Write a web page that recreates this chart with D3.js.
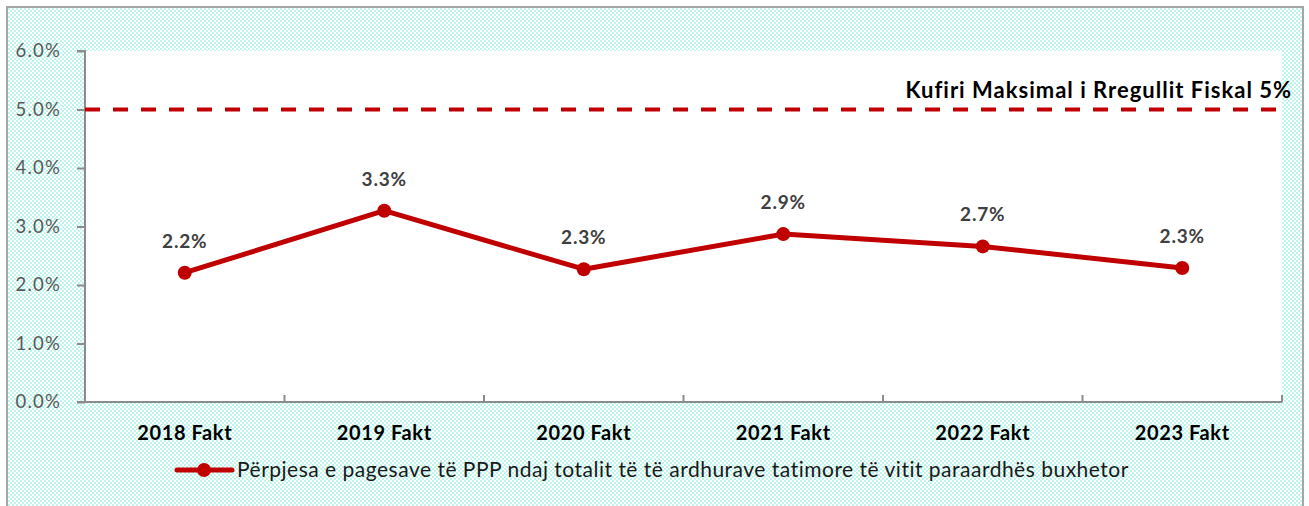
<!DOCTYPE html>
<html>
<head>
<meta charset="utf-8">
<script src="https://cdn.jsdelivr.net/npm/d3@7"></script>
<style>
  html, body { margin: 0; padding: 0; background: #fff; }
  svg { display: block; }
  text { font-family: Lato, "Open Sans", sans-serif; }
</style>
</head>
<body>
<div class="chart"></div>
<script>
const years = ["2018 Fakt", "2019 Fakt", "2020 Fakt", "2021 Fakt", "2022 Fakt", "2023 Fakt"];
const shares = [2.21, 3.27, 2.27, 2.87, 2.66, 2.29];
const shareLabels = ["2.2%", "3.3%", "2.3%", "2.9%", "2.7%", "2.3%"];
const yTicks = [0, 1, 2, 3, 4, 5, 6];
const limitValue = 5;
const limitLabel = "Kufiri Maksimal i Rregullit Fiskal 5%";
const seriesName = "Përpjesa e pagesave të PPP ndaj totalit të të ardhurave tatimore të vitit paraardhës buxhetor";

window.onload = function () {

const W = 1309, H = 506;
const red = "#c00000";

const svg = d3.select(".chart")
  .append("svg")
  .attr("width", W)
  .attr("height", H);

// checker fill like the excel chart area
const pat = svg.append("defs").append("pattern")
  .attr("id", "checks")
  .attr("patternUnits", "userSpaceOnUse")
  .attr("width", 4)
  .attr("height", 4);
pat.append("rect").attr("width", 4).attr("height", 4).attr("fill", "#ffffff");
pat.append("rect").attr("width", 2).attr("height", 2).attr("fill", "#bdf5ec");
pat.append("rect").attr("x", 2).attr("y", 2).attr("width", 2).attr("height", 2).attr("fill", "#bdf5ec");

svg.append("rect")
  .attr("x", 7).attr("y", 7)
  .attr("width", 1296).attr("height", 510)
  .attr("fill", "url(#checks)")
  .attr("stroke", "#a6a6a6")
  .attr("stroke-width", 2);

const x = d3.scaleBand()
  .domain(years)
  .range([85, 1282]);

const y = d3.scaleLinear()
  .domain([0, 6])
  .range([402, 51]);

// plot area
svg.append("rect")
  .attr("x", x.range()[0])
  .attr("y", y(6))
  .attr("width", x.range()[1] - x.range()[0])
  .attr("height", y(0) - y(6))
  .attr("fill", "#fff");

// y axis
const yAxis = svg.append("g")
  .attr("transform", `translate(${x.range()[0]},0)`)
  .call(d3.axisLeft(y).tickValues(yTicks).tickSize(8).tickPadding(16)
    .tickFormat(d => d.toFixed(1) + "%"));
yAxis.selectAll("path, line").attr("stroke", "#8c8c8c").attr("stroke-width", 2);
yAxis.select(".domain").attr("d", `M-8,${y(6)}H0V${y(0)}`);
yAxis.selectAll("text")
  .attr("fill", "#595959")
  .style("font-size", "18.5px")
  .style("letter-spacing", "1.2px");

// x axis, ticks between categories
const xAxis = svg.append("g")
  .attr("transform", `translate(0,${y(0)})`);
xAxis.append("line")
  .attr("x1", x.range()[0] - 8).attr("x2", x.range()[1])
  .attr("stroke", "#8c8c8c").attr("stroke-width", 2);
xAxis.selectAll(".tk")
  .data(years)
  .enter()
  .append("line")
  .attr("x1", d => x(d) + x.bandwidth())
  .attr("x2", d => x(d) + x.bandwidth())
  .attr("y1", -7).attr("y2", 0)
  .attr("stroke", "#8c8c8c").attr("stroke-width", 2);
xAxis.selectAll(".lbl")
  .data(years)
  .enter()
  .append("text")
  .attr("x", d => x(d) + x.bandwidth() / 2)
  .attr("y", 38)
  .attr("text-anchor", "middle")
  .style("font-size", "20px")
  .style("font-weight", "bold")
  .style("letter-spacing", "0.6px")
  .attr("fill", "#000")
  .text(d => d);

// fiscal rule limit
svg.append("line")
  .attr("x1", x.range()[0]).attr("x2", x.range()[1])
  .attr("y1", y(limitValue)).attr("y2", y(limitValue))
  .attr("stroke", red)
  .attr("stroke-width", 4)
  .attr("stroke-dasharray", "15,13");

svg.append("text")
  .attr("x", 1292)
  .attr("y", y(limitValue) - 12)
  .attr("text-anchor", "end")
  .style("font-size", "22px")
  .style("font-weight", "bold")
  .style("letter-spacing", "1px")
  .attr("fill", "#000")
  .text(limitLabel);

// series
const data = years.map((d, i) => ({ year: d, v: shares[i], label: shareLabels[i] }));
const cx = d => x(d.year) + x.bandwidth() / 2;

svg.append("path")
  .datum(data)
  .attr("fill", "none")
  .attr("stroke", red)
  .attr("stroke-width", 5)
  .attr("stroke-linejoin", "round")
  .attr("d", d3.line().x(cx).y(d => y(d.v)));

svg.selectAll(".dot")
  .data(data)
  .enter()
  .append("circle")
  .attr("cx", cx)
  .attr("cy", d => y(d.v))
  .attr("r", 7)
  .attr("fill", red);

svg.selectAll(".val")
  .data(data)
  .enter()
  .append("text")
  .attr("x", cx)
  .attr("y", d => y(d.v) - 25)
  .attr("text-anchor", "middle")
  .style("font-size", "19px")
  .style("font-weight", "bold")
  .style("letter-spacing", "0.8px")
  .attr("fill", "#404040")
  .text(d => d.label);

// legend
const leg = svg.append("g").attr("transform", "translate(177,470)");
leg.append("line")
  .attr("x1", 0).attr("x2", 55)
  .attr("stroke", red).attr("stroke-width", 5).attr("stroke-linecap", "round");
leg.append("circle").attr("cx", 27).attr("r", 7).attr("fill", red);
leg.append("text")
  .attr("x", 60)
  .attr("dy", "0.35em")
  .style("font-size", "21px")
  .style("letter-spacing", "0.5px")
  .attr("fill", "#1a1a1a")
  .text(seriesName);

};
</script>
</body>
</html>
